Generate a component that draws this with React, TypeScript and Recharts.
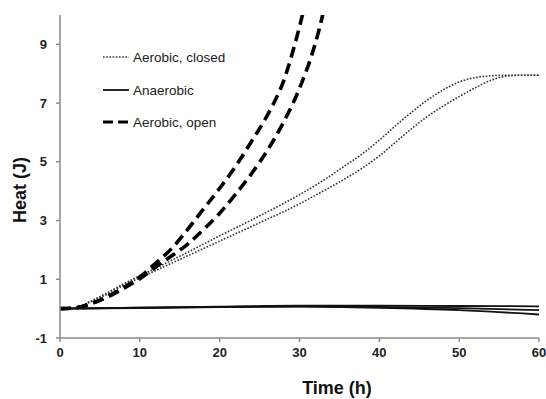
import { LineChart, Line, XAxis, YAxis, Label } from 'recharts'

const FONT = "Arial, 'Liberation Sans', sans-serif"

const xTicks = [0, 10, 20, 30, 40, 50, 60]
const yTicks = [-1, 1, 3, 5, 7, 9]

// Aerobic, open (two replicates)
const openTimeA = [0, 2, 4, 6, 8, 10, 12, 14, 16, 18, 20, 22, 24, 26, 28, 30, 32]
const openHeatA = [0, 0.03, 0.18, 0.42, 0.72, 1.08, 1.55, 2.05, 2.7, 3.4, 4.1, 4.85, 5.7, 6.6, 7.75, 9.6, 12]
const openTimeB = [0, 2, 4, 6, 8, 10, 12, 14, 16, 18, 20, 22, 24, 26, 28, 30, 32, 34]
const openHeatB = [0, 0.03, 0.18, 0.4, 0.7, 1.02, 1.42, 1.8, 2.2, 2.7, 3.25, 3.9, 4.6, 5.4, 6.35, 7.5, 9.05, 11.3]

// Aerobic, closed (two replicates)
const closedTime = [0, 2, 4, 6, 8, 10, 12, 14, 16, 18, 20, 22, 24, 26, 28, 30, 32, 34, 36, 38, 40, 42, 44, 46, 48, 50, 52, 54, 56, 58, 60]
const closedHeatA = [0, 0.05, 0.28, 0.55, 0.85, 1.12, 1.38, 1.65, 1.92, 2.2, 2.48, 2.75, 3.02, 3.3, 3.58, 3.88, 4.2, 4.55, 4.92, 5.3, 5.74, 6.22, 6.68, 7.1, 7.45, 7.72, 7.87, 7.93, 7.95, 7.95, 7.95]
const closedHeatB = [0, 0.04, 0.25, 0.5, 0.8, 1.05, 1.3, 1.55, 1.8, 2.05, 2.3, 2.55, 2.8, 3.05, 3.3, 3.57, 3.86, 4.16, 4.47, 4.81, 5.2, 5.66, 6.12, 6.54, 6.9, 7.22, 7.52, 7.78, 7.92, 7.95, 7.95]

// Anaerobic (three replicates)
const anaTime = [0, 10, 20, 30, 40, 50, 60]
const anaHeatA = [0, 0.03, 0.07, 0.1, 0.1, 0.09, 0.08]
const anaHeatB = [0, 0.03, 0.06, 0.08, 0.06, 0.02, -0.05]
const anaHeatC = [0, 0.02, 0.05, 0.07, 0.03, -0.05, -0.2]

const pts = (t: number[], v: number[]) => t.map((x, i) => ({ t: x, v: v[i] }))

const axisColor = '#8a8a8a'
const tickStyle = { fontSize: 13, fontWeight: 700, fill: '#222', fontFamily: FONT }

const dashed = { stroke: '#000', strokeWidth: 3.6, strokeDasharray: '11 6' }
const dotted = { stroke: '#333', strokeWidth: 1.6, strokeDasharray: '1.6 1.6' }
const solid = { stroke: '#111', strokeWidth: 1.8 }

function LegendBox() {
  const rows = [
    { label: 'Aerobic, closed', style: { ...dotted, strokeWidth: 1.4 }, y: 57 },
    { label: 'Anaerobic', style: solid, y: 90 },
    { label: 'Aerobic, open', style: { ...dashed, strokeWidth: 3.2, strokeDasharray: '10 5' }, y: 122 },
  ]
  return (
    <svg width={546} height={399} style={{ position: 'absolute', left: 0, top: 0, pointerEvents: 'none' }}>
      {rows.map((r) => (
        <g key={r.label}>
          <line x1={103} x2={129} y1={r.y} y2={r.y} {...r.style} />
          <text x={133} y={r.y} dominantBaseline="central" fontSize={13.5} fill="#222" fontFamily={FONT}>
            {r.label}
          </text>
        </g>
      ))}
    </svg>
  )
}

export default function App() {
  return (
    <div style={{ position: 'absolute', left: 0, top: 0, width: 546, height: 399, background: '#fff' }}>
      <LineChart width={546} height={399} margin={{ top: 15, right: 7, left: 0, bottom: 0 }}>
        <XAxis
          type="number"
          dataKey="t"
          domain={[0, 60]}
          ticks={xTicks}
          allowDataOverflow
          height={61}
          stroke={axisColor}
          strokeWidth={1.5}
          tickSize={4}
          tickMargin={6}
          tick={tickStyle}
        >
          <Label
            content={() => (
              <text x={337} y={388} textAnchor="middle" dominantBaseline="central" fontSize={18} fontWeight={700} fill="#111" fontFamily={FONT}>
                Time (h)
              </text>
            )}
          />
        </XAxis>
        <XAxis xAxisId="top" orientation="top" type="number" domain={[0, 60]} height={0} stroke={axisColor} strokeWidth={1.5} tick={false} tickLine={false} />
        <YAxis
          type="number"
          domain={[-1, 10]}
          ticks={yTicks}
          allowDataOverflow
          width={60}
          stroke={axisColor}
          strokeWidth={1.5}
          tickSize={4}
          tickMargin={9}
          tick={tickStyle}
        >
          <Label
            content={() => (
              <text x={20} y={190} transform="rotate(-90 20 190)" textAnchor="middle" dominantBaseline="central" fontSize={18} fontWeight={700} fill="#111" fontFamily={FONT}>
                Heat (J)
              </text>
            )}
          />
        </YAxis>
        <YAxis yAxisId="right" orientation="right" type="number" domain={[-1, 10]} ticks={yTicks} mirror width={0} stroke={axisColor} strokeWidth={1.5} tickSize={4} tick={false} />

        <Line data={pts(anaTime, anaHeatA)} dataKey="v" type="monotone" dot={false} isAnimationActive={false} {...solid} />
        <Line data={pts(anaTime, anaHeatB)} dataKey="v" type="monotone" dot={false} isAnimationActive={false} {...solid} />
        <Line data={pts(anaTime, anaHeatC)} dataKey="v" type="monotone" dot={false} isAnimationActive={false} {...solid} />
        <Line data={pts(closedTime, closedHeatA)} dataKey="v" type="monotone" dot={false} isAnimationActive={false} {...dotted} />
        <Line data={pts(closedTime, closedHeatB)} dataKey="v" type="monotone" dot={false} isAnimationActive={false} {...dotted} />
        <Line data={pts(openTimeA, openHeatA)} dataKey="v" type="monotone" dot={false} isAnimationActive={false} {...dashed} />
        <Line data={pts(openTimeB, openHeatB)} dataKey="v" type="monotone" dot={false} isAnimationActive={false} {...dashed} />
      </LineChart>
      <LegendBox />
    </div>
  )
}
